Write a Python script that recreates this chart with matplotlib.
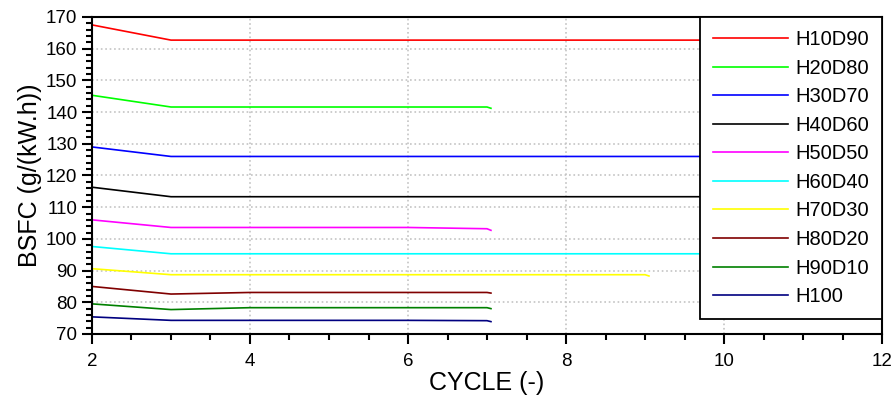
import numpy as np
import matplotlib.pyplot as plt
from matplotlib.ticker import MultipleLocator

plt.rcParams['font.family'] = ['Liberation Sans', 'DejaVu Sans']

# BSFC por ciclo
x_longo = [2, 3, 4, 5, 6, 7, 8, 9, 10]
x_curto = [2, 3, 4, 5, 6, 7, 7.05]
x_amarelo = [2, 3, 4, 5, 6, 7, 8, 9, 9.05]

h10d90 = [167.5, 162.7, 162.7, 162.7, 162.7, 162.7, 162.7, 162.7, 162.7]
h20d80 = [145.3, 141.6, 141.6, 141.6, 141.6, 141.6, 141.2]
h30d70 = [129.0, 126.0, 126.0, 126.0, 126.0, 126.0, 126.0, 126.0, 126.0]
h40d60 = [116.3, 113.3, 113.3, 113.3, 113.3, 113.3, 113.3, 113.3, 113.3]
h50d50 = [106.0, 103.6, 103.6, 103.6, 103.6, 103.2, 102.7]
h60d40 = [97.6, 95.3, 95.3, 95.3, 95.3, 95.3, 95.3, 95.3, 95.3]
h70d30 = [90.6, 88.7, 88.7, 88.7, 88.7, 88.7, 88.7, 88.7, 88.3]
h80d20 = [85.0, 82.6, 83.1, 83.1, 83.1, 83.1, 82.9]
h90d10 = [79.5, 77.7, 78.3, 78.3, 78.3, 78.3, 78.0]
h100 = [75.4, 74.3, 74.3, 74.3, 74.3, 74.2, 73.9]

series = [
    ('H10D90', x_longo, h10d90, '#ff0000'),
    ('H20D80', x_curto, h20d80, '#00ff00'),
    ('H30D70', x_longo, h30d70, '#0000ff'),
    ('H40D60', x_longo, h40d60, '#000000'),
    ('H50D50', x_curto, h50d50, '#ff00ff'),
    ('H60D40', x_longo, h60d40, '#00ffff'),
    ('H70D30', x_amarelo, h70d30, '#ffff00'),
    ('H80D20', x_curto, h80d20, '#800000'),
    ('H90D10', x_curto, h90d10, '#008000'),
    ('H100', x_curto, h100, '#000080'),
]

fig = plt.figure(figsize=(8.94, 4.08), dpi=100)
ax = fig.add_axes([0.1029, 0.1814, 0.8837, 0.777])

for nome, xs, ys, cor in series:
    ax.plot(xs, ys, color=cor, lw=1.2, label=nome)

ax.set_xlim(2, 12)
ax.set_ylim(70, 170)
ax.xaxis.set_major_locator(MultipleLocator(2))
ax.xaxis.set_minor_locator(MultipleLocator(0.5))
ax.yaxis.set_major_locator(MultipleLocator(10))
ax.yaxis.set_minor_locator(MultipleLocator(2))
ax.grid(which='major', color='#c4c4c4', linestyle=':', lw=1.2)
ax.tick_params(which='major', direction='out', length=7.5, width=1.5, labelsize=13.5)
ax.tick_params(which='minor', direction='out', length=4.3, width=1.5)
ax.tick_params(axis='x', pad=6)
ax.tick_params(axis='y', pad=3)
for s in ax.spines.values():
    s.set_linewidth(1.5)

ax.set_xlabel('CYCLE (-)', fontsize=18, labelpad=1)
ax.set_ylabel('BSFC (g/(kW.h))', fontsize=18, labelpad=3)

leg = ax.legend(loc='upper right', bbox_to_anchor=(1.0, 1.0), fontsize=14.5,
                fancybox=False, edgecolor='black', framealpha=1,
                handlelength=3.75, labelspacing=0.475, borderpad=0.65,
                handletextpad=0.35, borderaxespad=0)
leg.get_frame().set_linewidth(1.3)

fig.savefig('out.png', dpi=100)
